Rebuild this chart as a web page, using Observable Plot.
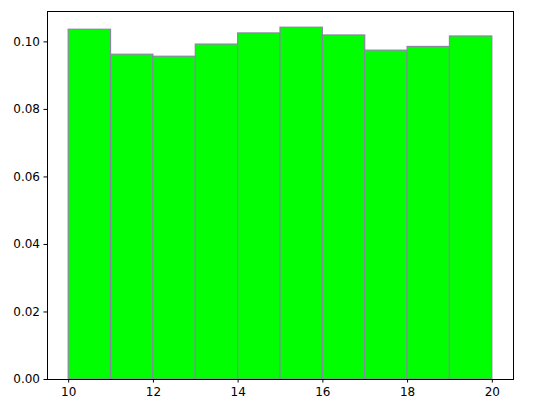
<!DOCTYPE html>
<html>
<head>
<meta charset="utf-8">
<script src="https://cdn.jsdelivr.net/npm/d3@7"></script>
<script src="https://cdn.jsdelivr.net/npm/@observablehq/plot@0.6"></script>
<style>
  html, body { margin: 0; padding: 0; background: #fff; }
  #chart svg { display: block; }
</style>
</head>
<body>
<div id="chart"></div>
<script>
const binStarts = [10, 11, 12, 13, 14, 15, 16, 17, 18, 19];
const binEnds   = [11, 12, 13, 14, 15, 16, 17, 18, 19, 20];
const density   = [0.1036, 0.0962, 0.0956, 0.0992, 0.1025, 0.1042, 0.1019, 0.0974, 0.0985, 0.1016];
const xTicks = [10, 12, 14, 16, 18, 20];
const yTicks = [0, 0.02, 0.04, 0.06, 0.08, 0.10];

const data = binStarts.map((s, i) => ({x1: s, x2: binEnds[i], y: density[i]}));

const chart = Plot.plot({
  width: 556,
  height: 413,
  marginLeft: 47,
  marginRight: 43,
  marginTop: 11,
  marginBottom: 34,
  style: {fontFamily: "DejaVu Sans", fontSize: "12px", color: "#000", background: "#fff"},
  x: {domain: [9.5, 20.5], ticks: xTicks, tickSize: 3.5, tickPadding: 4, label: null, tickFormat: d3.format("d")},
  y: {domain: [0, 0.109], ticks: yTicks, tickSize: 3.5, tickPadding: 4, label: null, tickFormat: d3.format(".2f")},
  marks: [
    Plot.rectY(data, {x1: "x1", x2: "x2", y: "y", fill: "#00ff00", stroke: "#8888a0", strokeWidth: 1.2, inset: 0}),
    Plot.frame({stroke: "#000", strokeWidth: 1})
  ]
});
document.getElementById("chart").appendChild(chart);
</script>
</body>
</html>
